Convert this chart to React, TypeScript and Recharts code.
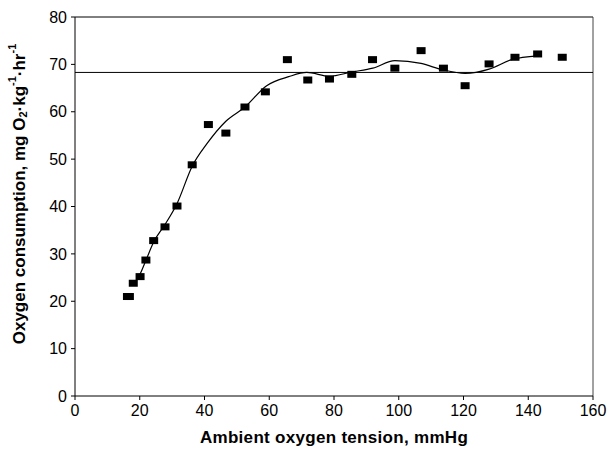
import React from "react";
import {
  ComposedChart,
  XAxis,
  YAxis,
  Scatter,
  Line,
  ReferenceLine,
  Label,
} from "recharts";

const pointX = [16.2, 16.8, 18.0, 20.1, 21.9, 24.3, 27.8, 31.5, 36.2, 41.2, 46.6, 52.5, 58.8, 65.6, 71.9, 78.6, 85.5, 91.9, 98.8, 106.9, 113.8, 120.5, 127.9, 135.9, 142.9, 150.5];
const pointY = [21.0, 21.0, 23.8, 25.2, 28.7, 32.8, 35.7, 40.1, 48.8, 57.3, 55.5, 61.0, 64.2, 71.0, 66.7, 66.9, 67.9, 71.0, 69.2, 72.9, 69.2, 65.5, 70.1, 71.5, 72.2, 71.5];

const curveX = [18, 20, 22, 24.3, 27.8, 31.5, 36.2, 40.7, 46.6, 52.5, 59.2, 66, 71.6, 78.6, 85.5, 92, 98.8, 106.9, 113.8, 120.5, 127.9, 134.9, 142.9];
const curveY = [23.5, 25.6, 28.8, 32.5, 36.2, 40.6, 48.5, 53.2, 58.0, 61.0, 65.5, 67.4, 68.3, 67.5, 68.4, 69.2, 70.8, 70.2, 68.8, 68.1, 69.0, 71.0, 71.8];

const xTicks = [0, 20, 40, 60, 80, 100, 120, 140, 160];
const yTicks = [0, 10, 20, 30, 40, 50, 60, 70, 80];
const plateau = 68.3;

const points = pointX.map((x, i) => ({ x, y: pointY[i] }));
const curve = curveX.map((x, i) => ({ x, y: curveY[i] }));

const FONT = "'Liberation Sans', Arial, sans-serif";

const Square = (props: any) => {
  const { cx, cy } = props;
  if (cx == null || cy == null) return null;
  return <rect x={cx - 4.5} y={cy - 3.5} width={9} height={7} fill="#000" />;
};

const YTitle = () => (
  <text
    x={19}
    y={194}
    transform="rotate(-90, 19, 194)"
    textAnchor="middle"
    dominantBaseline="central"
    fontFamily={FONT}
    fontWeight="bold"
    fontSize={17}
    fill="#000"
  >
    Oxygen consumption, mg O
    <tspan dy={4} fontSize={11}>2</tspan>
    <tspan dy={-4}>·kg</tspan>
    <tspan dy={-7} fontSize={11}>-1</tspan>
    <tspan dy={7}>·hr</tspan>
    <tspan dy={-7} fontSize={11}>-1</tspan>
  </text>
);

const XTitle = () => (
  <text
    x={334}
    y={437}
    textAnchor="middle"
    dominantBaseline="central"
    fontFamily={FONT}
    fontWeight="bold"
    fontSize={17}
    letterSpacing={0.3}
    fill="#000"
  >
    Ambient oxygen tension, mmHg
  </text>
);

export default function App() {
  return (
    <div style={{ position: "fixed", left: 0, top: 0, width: 611, height: 454, background: "#fff" }}>
      <ComposedChart
        width={611}
        height={454}
        margin={{ top: 17, right: 18, bottom: 0, left: 0 }}
      >
        <XAxis
          type="number"
          dataKey="x"
          domain={[0, 160]}
          ticks={xTicks}
          interval={0}
          height={58}
          tickSize={4}
          tickMargin={5}
          stroke="#000"
          tick={{ fill: "#000", fontSize: 16, fontFamily: FONT }}
          label={<Label content={<XTitle />} />}
        />
        <YAxis
          type="number"
          dataKey="y"
          domain={[0, 80]}
          ticks={yTicks}
          interval={0}
          width={75}
          tickSize={4}
          tickMargin={4}
          stroke="#000"
          tick={{ fill: "#000", fontSize: 16, fontFamily: FONT }}
          label={<Label content={<YTitle />} />}
        />
        <ReferenceLine y={80} stroke="#000" strokeWidth={1} ifOverflow="extendDomain" />
        <ReferenceLine x={160} stroke="#444" strokeWidth={1} />
        <ReferenceLine y={plateau} stroke="#000" strokeWidth={1} />
        <Line
          data={curve}
          dataKey="y"
          type="monotone"
          stroke="#000"
          strokeWidth={1.2}
          dot={false}
          activeDot={false}
          isAnimationActive={false}
        />
        <Scatter
          data={points}
          dataKey="y"
          fill="#000"
          shape={<Square />}
          isAnimationActive={false}
        />
      </ComposedChart>
    </div>
  );
}
